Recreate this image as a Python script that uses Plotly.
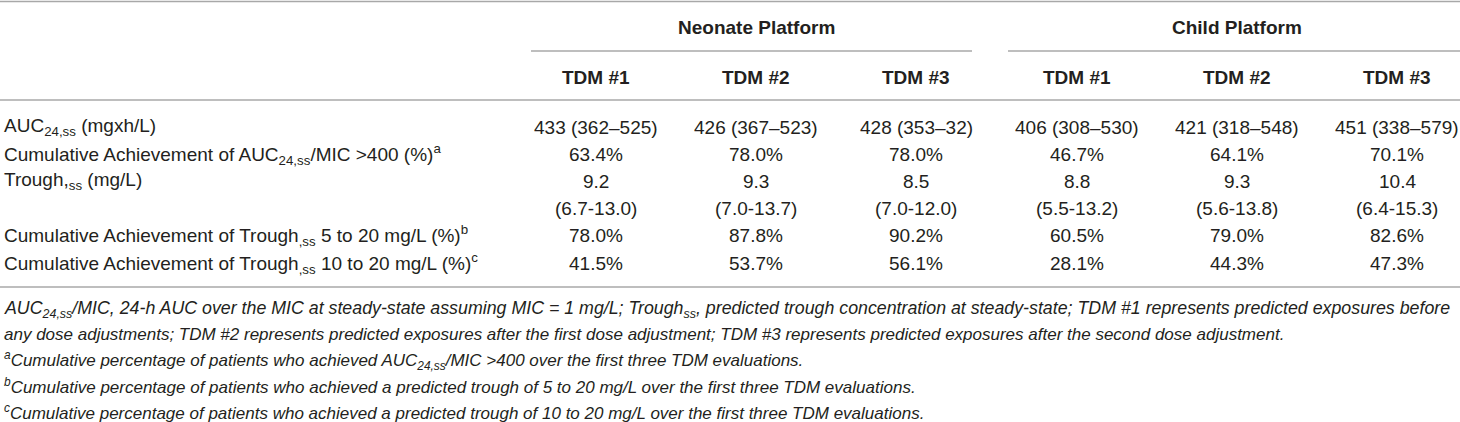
import plotly.graph_objects as go

# table content
groups = ["Neonate Platform", "Child Platform"]
tdm_labels = ["TDM #1", "TDM #2", "TDM #3", "TDM #1", "TDM #2", "TDM #3"]

row_labels = [
    "AUC<sub>24,ss</sub> (mgxh/L)",
    "Cumulative Achievement of AUC<sub>24,ss</sub>/MIC >400 (%)<sup>a</sup>",
    "Trough,<sub>ss</sub> (mg/L)",
    "",
    "Cumulative Achievement of Trough<sub>,ss</sub> 5 to 20 mg/L (%)<sup>b</sup>",
    "Cumulative Achievement of Trough<sub>,ss</sub> 10 to 20 mg/L (%)<sup>c</sup>",
]

auc = ["433 (362–525)", "426 (367–523)", "428 (353–32)", "406 (308–530)", "421 (318–548)", "451 (338–579)"]
auc_mic_400 = ["63.4%", "78.0%", "78.0%", "46.7%", "64.1%", "70.1%"]
trough_median = ["9.2", "9.3", "8.5", "8.8", "9.3", "10.4"]
trough_range = ["(6.7-13.0)", "(7.0-13.7)", "(7.0-12.0)", "(5.5-13.2)", "(5.6-13.8)", "(6.4-15.3)"]
trough_5_20 = ["78.0%", "87.8%", "90.2%", "60.5%", "79.0%", "82.6%"]
trough_10_20 = ["41.5%", "53.7%", "56.1%", "28.1%", "44.3%", "47.3%"]

footnotes = [
    "AUC<sub>24,ss</sub>/MIC, 24-h AUC over the MIC at steady-state assuming MIC = 1 mg/L; Trough<sub>ss</sub>, predicted trough concentration at steady-state; TDM #1 represents predicted exposures before",
    "any dose adjustments; TDM #2 represents predicted exposures after the first dose adjustment; TDM #3 represents predicted exposures after the second dose adjustment.",
    "<sup>a</sup>Cumulative percentage of patients who achieved AUC<sub>24,ss</sub>/MIC >400 over the first three TDM evaluations.",
    "<sup>b</sup>Cumulative percentage of patients who achieved a predicted trough of 5 to 20 mg/L over the first three TDM evaluations.",
    "<sup>c</sup>Cumulative percentage of patients who achieved a predicted trough of 10 to 20 mg/L over the first three TDM evaluations.",
]

rows = [auc, auc_mic_400, trough_median, trough_range, trough_5_20, trough_10_20]

W, H = 1460, 422
FONT = "Liberation Sans"
TXT = "#231f20"
RULE = "#a8a8a8"

col_x0, col_dx = 596, 160.2
row_y0, row_dy = 127, 27.2
foot_y0, foot_dy = 309, 25.8

fig = go.Figure()
ann = []
shapes = []


def text(x, y, s, anchor="center", size=19, bold=False, italic=False):
    if bold:
        s = "<b>" + s + "</b>"
    if italic:
        s = "<i>" + s + "</i>"
    ann.append(dict(x=x, y=y, xref="x", yref="y", text=s, showarrow=False,
                    xanchor=anchor, yanchor="middle",
                    font=dict(family=FONT, size=size, color=TXT)))


def hline(x0, x1, y, w=1.6):
    shapes.append(dict(type="line", xref="x", yref="y", x0=x0, x1=x1, y0=y, y1=y,
                       line=dict(color=RULE, width=w)))


# rules
hline(0, W, 1.5)
hline(531, 972, 51)
hline(1008, W, 51)
hline(0, W, 100)
hline(0, W, 287)

# group headers
text(col_x0 + col_dx, 27, groups[0], bold=True)
text(col_x0 + 4 * col_dx, 27, groups[1], bold=True)

# column headers
for i, lab in enumerate(tdm_labels):
    text(col_x0 + i * col_dx, 77, lab, bold=True)

# body
for r, (lab, vals) in enumerate(zip(row_labels, rows)):
    y = row_y0 + r * row_dy
    if lab:
        text(2, y, lab, anchor="left")
    for i, v in enumerate(vals):
        text(col_x0 + i * col_dx, y, v)

# footnotes (first line is justified in the source, so a touch larger)
for k, f in enumerate(footnotes):
    text(2, foot_y0 + k * foot_dy, f, anchor="left", size=17.8 if k == 0 else 17, italic=True)

fig.update_layout(
    width=W, height=H,
    margin=dict(l=0, r=0, t=0, b=0),
    paper_bgcolor="white", plot_bgcolor="white",
    xaxis=dict(range=[0, W], visible=False, fixedrange=True),
    yaxis=dict(range=[H, 0], visible=False, fixedrange=True),
    annotations=ann, shapes=shapes,
    showlegend=False,
)

fig.write_html("out.html", config={"displayModeBar": False},
               post_script="document.body.style.margin='0px';")
